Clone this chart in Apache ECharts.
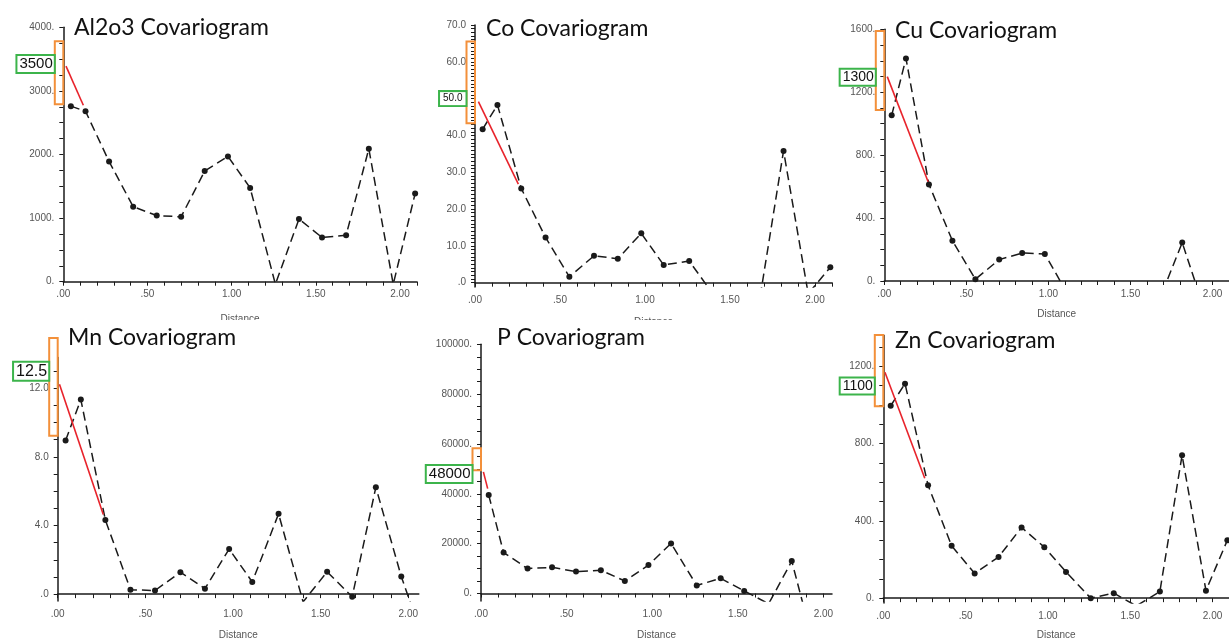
<!DOCTYPE html>
<html>
<head>
<meta charset="utf-8">
<script src="https://cdn.jsdelivr.net/npm/echarts@6/dist/echarts.min.js"></script>
<style>
  html, body { margin: 0; padding: 0; background: #fff; }
  #chart { width: 1229px; height: 641px; }
</style>
</head>
<body>
<div id="chart"></div>
<script>
"use strict";

// lag distances shared by all six covariograms
const LAGS = [0.045, 0.132, 0.272, 0.415, 0.555, 0.70, 0.84, 0.978, 1.11, 1.26, 1.40, 1.537, 1.68, 1.815, 1.96, 2.09];

// experimental covariogram values (negatives fall off the plot)
const AL2O3 = [2760, 2680, 1890, 1180, 1040, 1020, 1740, 1970, 1475, -40, 985, 695, 730, 2090, -40, 1385];
const CO    = [41.7, 48.3, 25.6, 12.3, 1.6, 7.3, 6.5, 13.4, 4.8, 5.9, -3.1, -6, -3, 35.8, -3, 4.2];
const CU    = [1053, 1415, 614, 256, 11, 136, 178, 172, -70, -150, -150, -150, -108, 244, -214, -100];
const MN    = [8.96, 11.34, 4.32, 0.26, 0.21, 1.28, 0.32, 2.63, 0.71, 4.68, -0.45, 1.30, -0.15, 6.23, 1.03, -2.8];
const P     = [39500, 16450, 10000, 10500, 8800, 9300, 5050, 11400, 20100, 3240, 6090, 1040, -4100, 13000, -25000, -15000];
const ZN    = [996, 1110, 584, 271, 128, 213, 366, 264, 136, 0, 26, -40, 34, 740, 39, 300];

// red model lines [distance, value]
const AL2O3_MODEL = [[0.016, 3390], [0.119, 2775]];
const CO_MODEL    = [[0.02, 49.2], [0.255, 26.8]];
const CU_MODEL    = [[0.018, 1299], [0.267, 631]];
const MN_MODEL    = [[0.01, 12.24], [0.26, 4.64]];
const P_MODEL     = [[0.014, 48800], [0.039, 42100]];
const ZN_MODEL    = [[0.01, 1169], [0.252, 621]];

// orange highlight spans on the y axis [low, high]
const AL2O3_SPAN = [2790, 3780];
const CO_SPAN    = [43.3, 65.5];
const CU_SPAN    = [1087, 1589];
const MN_SPAN    = [9.24, 14.93];
const P_SPAN     = [49500, 58300];
const ZN_SPAN    = [993, 1362];

// green sill labels [text, value]
const AL2O3_SILL = ["3500", 3423];
const CO_SILL    = ["50.0", 50];
const CU_SILL    = ["1300", 1295];
const MN_SILL    = ["12.5", 12.99];
const P_SILL     = ["48000", 47940];
const ZN_SILL    = ["1100", 1098];

// y tick labels
const AL2O3_YLAB = [0, 1000, 2000, 3000, 4000];
const CO_YLAB    = [0, 10, 20, 30, 40, 60, 70];
const CU_YLAB    = [0, 400, 800, 1200, 1600];
const MN_YLAB    = [0, 4, 8, 12];
const P_YLAB     = [0, 20000, 40000, 60000, 80000, 100000];
const ZN_YLAB    = [0, 400, 800, 1200];
const X_LAB      = [0, 0.5, 1, 1.5, 2];

const TITLES = ["Al2o3 Covariogram", "Co Covariogram", "Cu Covariogram",
                "Mn Covariogram", "P Covariogram", "Zn Covariogram"];

// ── layout (pixels) ──
const PANELS = [
  { name: TITLES[0], vals: AL2O3, model: AL2O3_MODEL, span: AL2O3_SPAN, sill: AL2O3_SILL, ylab: AL2O3_YLAB,
    grid: { left: 63.3, top: 27.3, width: 353.5, height: 254.4 }, xmax: 2.1, ymin: 0, ymax: 4000, ystep: 250,
    fmt: v => v + ".", title: [74, 28], sillFont: 15, nameGap: 33 },
  { name: TITLES[1], vals: CO, model: CO_MODEL, span: CO_SPAN, sill: CO_SILL, ylab: CO_YLAB,
    grid: { left: 475, top: 25, width: 357, height: 262.1 }, xmax: 2.1, ymin: -1.2, ymax: 70, ystep: 1,
    fmt: v => v === 0 ? ".0" : v.toFixed(1), title: [486, 28.5], sillFont: 10, nameGap: 30 },
  { name: TITLES[2], vals: CU, model: CU_MODEL, span: CU_SPAN, sill: CU_SILL, ylab: CU_YLAB,
    grid: { left: 884.3, top: 29.3, width: 348.6, height: 251.7 }, xmax: 2.1, ymin: 0, ymax: 1600, ystep: 100,
    fmt: v => v + ".", title: [895, 31], sillFont: 14, nameGap: 28 },
  { name: TITLES[3], vals: MN, model: MN_MODEL, span: MN_SPAN, sill: MN_SILL, ylab: MN_YLAB,
    grid: { left: 57.7, top: 357.4, width: 361.1, height: 252 }, xmax: 2.06, ymin: -0.4, ymax: 13.8, ystep: 1,
    fmt: v => v === 0 ? ".0" : v.toFixed(1), title: [68, 337.5], sillFont: 16, nameGap: 29 },
  { name: TITLES[4], vals: P, model: P_MODEL, span: P_SPAN, sill: P_SILL, ylab: P_YLAB,
    grid: { left: 481, top: 344.3, width: 351, height: 265.1 }, xmax: 2.05, ymin: -3000, ymax: 100000, ystep: 5000,
    fmt: v => v + ".", title: [497, 338], sillFont: 15, nameGap: 29 },
  { name: TITLES[5], vals: ZN, model: ZN_MODEL, span: ZN_SPAN, sill: ZN_SILL, ylab: ZN_YLAB,
    grid: { left: 883.3, top: 335.4, width: 355.3, height: 271.2 }, xmax: 2.1, ymin: -25, ymax: 1360, ystep: 100,
    fmt: v => v + ".", title: [895, 340.5], sillFont: 14, nameGap: 27 },
];

const INK = "#1a1a1a";
const LABEL = "#555";
const FONT = "'Liberation Sans', Arial, sans-serif";

function steps(max, step) {
  const out = [];
  for (let i = 0; i * step <= max + 1e-9; i++) out.push(+(i * step).toFixed(6));
  return out;
}

function xfmt(v) {
  const s = v.toFixed(2);
  return s.startsWith("0") ? s.slice(1) : s;
}

const grids = [], xAxes = [], yAxes = [], series = [];
PANELS.forEach((p, i) => {
  grids.push({ ...p.grid, containLabel: false });
  xAxes.push({
    type: "value", gridIndex: i, min: 0, max: p.xmax,
    name: "Distance", nameLocation: "middle", nameGap: p.nameGap,
    nameTextStyle: { fontFamily: FONT, fontSize: 10, color: LABEL },
    axisLine: { onZero: true, lineStyle: { color: INK, width: 1.5 } },
    axisTick: { customValues: steps(p.xmax, 0.1), length: 4, lineStyle: { color: INK } },
    axisLabel: { customValues: X_LAB, formatter: xfmt, fontFamily: FONT, fontSize: 10, color: LABEL, margin: 8 },
    splitLine: { show: false },
  });
  yAxes.push({
    type: "value", gridIndex: i, min: p.ymin, max: p.ymax,
    axisLine: { show: true, onZero: false, lineStyle: { color: INK, width: 1.5 } },
    axisTick: { customValues: steps(p.ymax, p.ystep), length: 4, lineStyle: { color: INK } },
    axisLabel: { customValues: p.ylab, formatter: p.fmt, fontFamily: FONT, fontSize: 10, color: LABEL, margin: 9 },
    splitLine: { show: false },
  });
  series.push({
    type: "line", xAxisIndex: i, yAxisIndex: i,
    data: LAGS.map((d, k) => [d, p.vals[k]]),
    symbol: "circle", symbolSize: 6, clip: true,
    itemStyle: { color: INK },
    lineStyle: { color: INK, width: 1.5, type: [9, 5] },
    silent: true, z: 3,
  });
  series.push({
    type: "line", xAxisIndex: i, yAxisIndex: i,
    data: p.model, showSymbol: false, clip: true,
    lineStyle: { color: "#e8232b", width: 1.6 },
    silent: true, z: 4,
  });
});

const chart = echarts.init(document.getElementById("chart"), null, { renderer: "canvas" });
chart.setOption({
  animation: false,
  backgroundColor: "#fff",
  grid: grids, xAxis: xAxes, yAxis: yAxes, series: series,
});

// annotations placed through the axes' own scales
const gfx = [];
PANELS.forEach((p, i) => {
  const at = v => chart.convertToPixel({ xAxisIndex: i, yAxisIndex: i }, [0, v]);
  const lo = at(p.span[0]), hi = at(p.span[1]);
  gfx.push({
    type: "rect", z: 50,
    shape: { x: lo[0] - 8.5, y: hi[1], width: 8.5, height: lo[1] - hi[1] },
    style: { fill: "none", stroke: "#f3903a", lineWidth: 2 },
  });
  const s = at(p.sill[1]);
  gfx.push({
    type: "text", z: 51,
    x: s[0] - 9.5, y: s[1],
    style: {
      text: p.sill[0], font: p.sillFont + "px " + FONT, fill: "#111",
      align: "right", verticalAlign: "middle",
      backgroundColor: "#fff", borderColor: "#3cb44b", borderWidth: 2,
      padding: p.sillFont > 11 ? [1, 1, 0, 2] : [2, 3, 1, 3],
    },
  });
  gfx.push({
    type: "text", z: 52,
    x: p.title[0], y: p.title[1],
    style: {
      text: p.name, font: "23px Lato, 'Open Sans', sans-serif", fill: "#111",
      align: "left", verticalAlign: "middle",
    },
  });
});
// top row pictures are cropped just under their axis titles
gfx.push({ type: "rect", z: 40, shape: { x: 0, y: 320, width: 830, height: 5 }, style: { fill: "#fff" } });
chart.setOption({ graphic: gfx });
</script>
</body>
</html>
